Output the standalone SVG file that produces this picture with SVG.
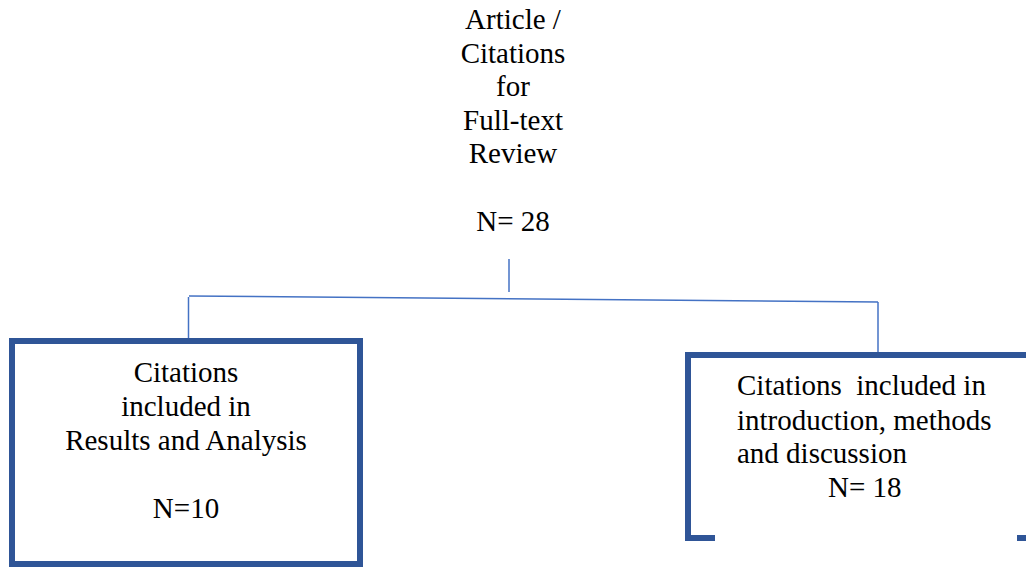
<svg xmlns="http://www.w3.org/2000/svg" width="1026" height="567" viewBox="0 0 1026 567">
<style>
.box{fill:#fff;stroke:#2F5597;stroke-width:6}
.open{fill:none;stroke:#2F5597;stroke-width:6}
.conn{fill:none;stroke:#4472C4;stroke-width:1.5}
.t{font-family:'Liberation Serif',serif;font-size:29px;fill:#000}
.c{text-anchor:middle}
</style>
<rect width="1026" height="567" fill="#fff"/>
<g id="connectors">
<line class="conn" x1="509" y1="259" x2="509" y2="292"/>
<path class="conn" d="M189,296 L878,302"/>
<line class="conn" x1="188.5" y1="297" x2="188.5" y2="340"/>
<line class="conn" x1="878" y1="302" x2="878" y2="353"/>
</g>
<g id="node-top">
<text class="t c" x="513" y="29">Article /</text>
<text class="t c" x="513" y="63">Citations</text>
<text class="t c" x="513" y="96">for</text>
<text class="t c" x="513" y="130">Full-text</text>
<text class="t c" x="513" y="163">Review</text>
<text class="t c" x="513" y="231">N= 28</text>
</g>
<g id="node-left">
<rect class="box" x="12" y="341" width="348" height="223"/>
<text class="t c" x="186" y="382">Citations</text>
<text class="t c" x="186" y="416">included in</text>
<text class="t c" x="186" y="450">Results and Analysis</text>
<text class="t c" x="186" y="518">N=10</text>
</g>
<g id="node-right">
<path class="open" d="M715,538 L688,538 L688,355 L1026,355"/>
<path class="open" d="M1017,538 L1026,538"/>
<text class="t" x="737" y="395" xml:space="preserve">Citations  included in</text>
<text class="t" x="737" y="430">introduction, methods</text>
<text class="t" x="737" y="463">and discussion</text>
<text class="t" x="828" y="497">N= 18</text>
</g>
</svg>
